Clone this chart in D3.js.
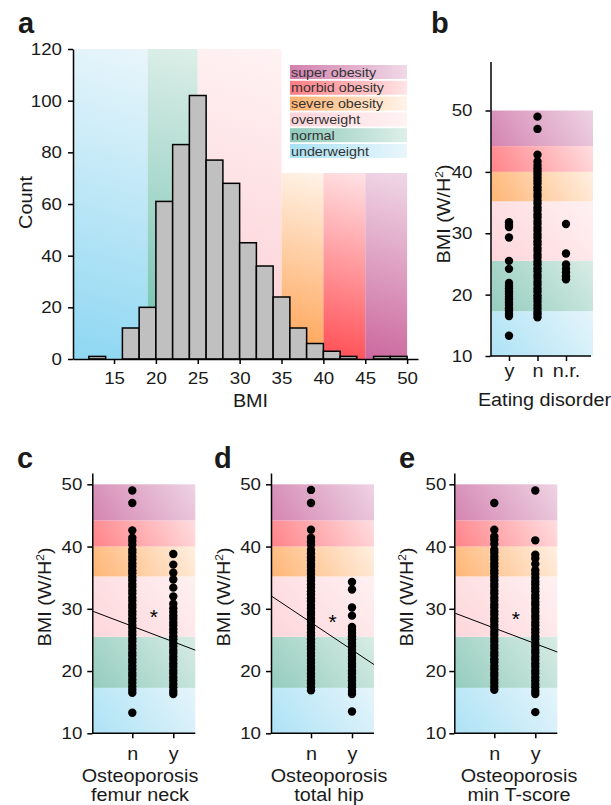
<!DOCTYPE html>
<meta charset="utf-8">
<style>
body { margin: 0; background: #fff; }
svg { font-family: "Liberation Sans", Arial, Helvetica, sans-serif; }
.axis path, .axis line { stroke: #000; stroke-width: 1.5; }
.axis text { font-size: 17px; fill: #1a1a1a; }
.cat .tick text { font-size: 18px; }
.title { font-size: 18px; fill: #1a1a1a; }
.letter { font-size: 29px; font-weight: bold; fill: #1a1a1a; }
.legend-text { font-size: 13px; fill: #333; }
.bar { fill: #c0c0c0; stroke: #000; stroke-width: 1.5; }
.dot { fill: #000; }
.fit { stroke: #000; stroke-width: 1; fill: none; }
</style>
<body>
<script src="https://d3js.org/d3.v7.min.js"></script>
<script>

// histogram (panel a)
var binStarts = [12, 14, 16, 18, 20, 22, 24, 26, 28, 30, 32, 34, 36, 38, 40, 42, 44, 46, 48];
var binCounts = [1, 0, 12, 20, 61, 83, 102, 77, 68, 45, 36, 24, 12, 6, 3, 1, 0, 1, 1];
var bmiTicks = [15, 20, 25, 30, 35, 40, 45, 50];
var countTicks = [0, 20, 40, 60, 80, 100, 120];

// BMI classes
var bandNames = ["underweight", "normal", "overweight", "severe obesity", "morbid obesity", "super obesity"];
var histBandEdges = [10.1, 19, 25, 35, 40, 45, 50];
var histBandTops = [120, 120, 120, 72, 72, 72];
var stripBandEdges = [10, 17.3, 25.5, 35.2, 40, 44.2, 50];
var stripTicks = [10, 20, 30, 40, 50];

// panel b: eating disorder
var eatCats = ["y", "n", "n.r."];
var eatY = [13.3, 16.5, 16.9, 17.4, 17.8, 18.3, 18.7, 19.2, 19.6, 20.1, 20.5, 21.0, 21.4, 21.9, 24.2, 25.5, 29.3, 31.0, 31.4, 31.8];
var eatN = [16.3, 16.8, 17.2, 17.8, 18.3, 18.9, 19.4, 19.9, 20.5, 21.0, 21.6, 22.1, 22.7, 23.2, 23.8, 24.3, 24.9, 25.4, 26.0, 26.5,
  27.1, 27.6, 28.2, 28.7, 29.3, 29.8, 30.4, 30.9, 31.5, 32.0, 32.6, 33.1, 33.7, 34.2, 34.8, 35.3, 35.9, 36.4, 37.0, 37.5,
  38.1, 38.6, 39.1, 39.6, 40.1, 40.6, 41.1, 41.7, 42.8, 47.0, 49.0];
var eatNR = [22.5, 23.0, 23.6, 24.2, 24.9, 26.7, 31.5];

// panels c-e: osteoporosis
var osteoCats = ["n", "y"];
var femurN = [13.3, 16.5, 17.0, 17.5, 18.1, 18.6, 19.2, 19.7, 20.3, 20.8, 21.4, 21.9, 22.5, 23.0, 23.6, 24.1, 24.7, 25.2, 25.8, 26.3,
  26.9, 27.4, 28.0, 28.5, 29.1, 29.6, 30.2, 30.7, 31.3, 31.8, 32.4, 32.9, 33.5, 34.0, 34.6, 35.1, 35.7, 36.2, 36.8, 37.3,
  37.9, 38.4, 39.0, 39.5, 40.3, 40.9, 41.4, 42.6, 47.0, 49.0];
var femurY = [16.3, 16.8, 17.4, 17.9, 18.5, 19.0, 19.6, 20.1, 20.7, 21.2, 21.8, 22.3, 22.9, 23.4, 24.0, 24.5, 25.1, 25.6, 26.2, 26.7,
  27.3, 27.8, 28.4, 28.9, 29.5, 30.1, 30.8, 32.0, 33.4, 34.7, 35.8, 37.1, 38.8];
var hipN = [16.9, 17.4, 18.0, 18.5, 19.1, 19.6, 20.2, 20.7, 21.3, 21.8, 22.4, 22.9, 23.5, 24.0, 24.6, 25.1, 25.7, 26.2, 26.8, 27.3,
  27.9, 28.4, 29.0, 29.5, 30.1, 30.6, 31.2, 31.7, 32.3, 32.8, 33.4, 33.9, 34.5, 35.0, 35.6, 36.1, 36.7, 37.2, 37.8, 38.3,
  38.9, 39.5, 40.3, 40.8, 41.4, 42.7, 47.0, 49.1];
var hipY = [13.5, 16.3, 16.8, 17.4, 17.9, 18.5, 19.0, 19.6, 20.1, 20.7, 21.2, 21.8, 22.3, 22.9, 23.4, 24.0, 24.5, 25.1, 25.6, 26.1,
  26.6, 27.1, 28.9, 30.2, 33.1, 34.3];
var tscoreN = [17.0, 17.5, 18.1, 18.6, 19.2, 19.7, 20.3, 20.8, 21.4, 21.9, 22.5, 23.0, 23.6, 24.1, 24.7, 25.2, 25.8, 26.3, 26.9, 27.4,
  28.0, 28.5, 29.1, 29.6, 30.2, 30.7, 31.3, 31.8, 32.4, 32.9, 33.5, 34.0, 34.6, 35.1, 35.7, 36.2, 36.8, 37.3, 37.9, 38.4,
  39.0, 39.5, 40.4, 41.1, 41.6, 42.7, 47.0];
var tscoreY = [13.4, 16.3, 16.8, 17.4, 17.9, 18.5, 19.0, 19.6, 20.1, 20.7, 21.2, 21.8, 22.3, 22.9, 23.4, 24.0, 24.5, 25.1, 25.6, 26.2,
  26.7, 27.3, 27.8, 28.4, 28.9, 29.5, 30.0, 30.6, 31.1, 31.7, 32.2, 32.8, 33.3, 33.9, 34.4, 35.0, 35.6, 36.2, 37.2, 38.1,
  38.7, 41.0, 49.0];
// fitted BMI at n / y, and height of the star
var femurFit = [27.2, 24.7], hipFit = [27.8, 23.4], tscoreFit = [26.9, 24.4];
var femurStar = 29.5, hipStar = 28.7, tscoreStar = 29.2;

// colours of the classes
var bandDark  = ["#8ed7f2", "#6dbfac", "#fccdd3", "#ffa04f", "#ff4d53", "#cc689e"];
var bandMid   = ["#a9e1f5", "#8fcaba", "#fdd4d9", "#ffb16d", "#ff7d83", "#d27fae"];
var bandLight = ["#eaf6fb", "#ddefe9", "#fff3f4", "#fff4ea", "#ffe4e6", "#f0d9e7"];

var svg = d3.select("body").append("svg").attr("width", 611).attr("height", 805);
var defs = svg.append("defs");
var gradId = 0;

function gradient(x1, y1, x2, y2, c0, c1, units) {
  var id = "g" + (gradId++);
  var g = defs.append("linearGradient").attr("id", id)
    .attr("gradientUnits", units || "userSpaceOnUse")
    .attr("x1", x1).attr("y1", y1).attr("x2", x2).attr("y2", y2);
  g.append("stop").attr("offset", 0).attr("stop-color", c0);
  g.append("stop").attr("offset", 1).attr("stop-color", c1);
  return "url(#" + id + ")";
}

function letter(txt, x, y) {
  svg.append("text").attr("class", "letter").attr("x", x).attr("y", y).text(txt);
}

function yTitle(x, y) {
  var t = svg.append("text").attr("class", "title stretch")
    .attr("text-anchor", "middle")
    .attr("transform", "translate(" + x + "," + y + ") rotate(-90)");
  t.append("tspan").text("BMI (W/H");
  t.append("tspan").attr("dy", -7).attr("font-size", "11px").text("2");
  t.append("tspan").attr("dy", 7).text(")");
}

// ---------- panel a ----------
var xA = d3.scaleLinear().domain([10.1, 51.3]).range([73, 418]);
var yA = d3.scaleLinear().domain([0, 120]).range([359, 49]);

bandNames.forEach(function(name, i) {
  var x0 = xA(histBandEdges[i]) + (i === 0 ? 1 : 0), x1 = xA(histBandEdges[i + 1]);
  var top = yA(histBandTops[i]);
  svg.append("rect")
    .attr("x", x0).attr("y", top)
    .attr("width", x1 - x0).attr("height", yA(0) - top)
    .attr("fill", gradient(x0, yA(0), x0 + (x1 - x0) * 1.2, top, bandDark[i], bandLight[i]));
});

svg.selectAll(".bar")
  .data(binStarts.map(function(s, i) { return {s: s, c: binCounts[i]}; }).filter(function(d) { return d.c > 0; }))
  .enter().append("rect")
  .attr("class", "bar")
  .attr("x", function(d) { return xA(d.s); })
  .attr("width", function(d) { return xA(d.s + 2) - xA(d.s); })
  .attr("y", function(d) { return yA(d.c); })
  .attr("height", function(d) { return yA(0) - yA(d.c); });

svg.append("g").attr("class", "axis").attr("transform", "translate(0," + yA(0) + ")")
  .call(d3.axisBottom(xA).tickValues(bmiTicks).tickSize(5).tickSizeOuter(0).tickPadding(8));
svg.append("g").attr("class", "axis").attr("transform", "translate(" + xA.range()[0] + ",0)")
  .call(d3.axisLeft(yA).tickValues(countTicks).tickSize(5).tickSizeOuter(0).tickPadding(6));

// legend, top row is the heaviest class
var legendOrder = bandNames.map(function(n, i) { return i; }).reverse();
var legendRow = d3.scaleLinear().domain([0, 5]).range([65, 144]);
legendOrder.forEach(function(i, r) {
  var y0 = legendRow(r);
  svg.append("rect")
    .attr("x", 290).attr("y", y0).attr("width", 117).attr("height", 14)
    .attr("fill", gradient(0, 0, 1, 0, bandMid[i], bandLight[i], "objectBoundingBox"));
  svg.append("text").attr("class", "legend-text stretch")
    .attr("x", 291).attr("y", y0 + 11.5).text(bandNames[i]);
});

svg.append("text").attr("class", "title stretch").attr("text-anchor", "middle")
  .attr("transform", "translate(31.5,202.5) rotate(-90)").text("Count");
svg.append("text").attr("class", "title stretch").attr("text-anchor", "middle")
  .attr("x", 250.5).attr("y", 407).text("BMI");
letter("a", 18, 33);

// ---------- strip panels ----------
function stripPanel(p) {
  var y = d3.scaleLinear().domain(p.domain).range(p.yRange);
  var x = d3.scalePoint().domain(p.cats).range(p.xRange);
  var left = p.axisX + 1;

  bandNames.forEach(function(name, i) {
    var yb = y(stripBandEdges[i]), yt = y(stripBandEdges[i + 1]);
    svg.append("rect")
      .attr("x", left).attr("y", yt).attr("width", p.right - left).attr("height", yb - yt)
      .attr("fill", gradient(left, yb + 15, p.right, yt - 15, bandMid[i], bandLight[i]));
  });

  p.groups.forEach(function(vals, k) {
    svg.append("g").selectAll("circle").data(vals).enter().append("circle")
      .attr("class", "dot")
      .attr("cx", x(p.cats[k]))
      .attr("cy", function(d) { return y(d); })
      .attr("r", 4.2);
  });

  if (p.fit) {
    var fitAt = d3.scaleLinear().domain([x("n"), x("y")]).range(p.fit);
    svg.append("path").attr("class", "fit")
      .attr("d", d3.line().x(function(d) { return d; }).y(function(d) { return y(fitAt(d)); })([left, p.right]));
    svg.append("text").attr("text-anchor", "middle").attr("font-size", "21px")
      .attr("x", (x("n") + x("y")) / 2 + 1).attr("y", y(p.star) + 12).text("*");
  }

  svg.append("g").attr("class", "axis").attr("transform", "translate(" + p.axisX + ",0)")
    .call(d3.axisLeft(y).tickValues(stripTicks).tickSize(5).tickSizeOuter(0).tickPadding(p.yPad));
  svg.append("line").attr("x1", p.axisX).attr("x2", p.axisEnd)
    .attr("y1", y(10)).attr("y2", y(10)).attr("stroke", "#000").attr("stroke-width", 1.5);
  svg.append("g").attr("class", "axis cat").attr("transform", "translate(0," + y(10) + ")")
    .call(d3.axisBottom(x).tickSize(5).tickPadding(p.xPad))
    .call(function(g) { g.select(".domain").remove(); });

  yTitle(p.axisX - 41, p.titleY);
  p.xTitle.forEach(function(line, j) {
    svg.append("text").attr("class", "title stretch").attr("text-anchor", "middle")
      .attr("x", p.xTitleX).attr("y", p.xTitleY + j * 19.5).text(line);
  });
  letter(p.letter, p.letterX, p.letterY);
}

stripPanel({
  cats: eatCats, groups: [eatY, eatN, eatNR],
  domain: [10, 58], yRange: [356, 61.4],
  axisX: 490.5, xRange: [509, 566], right: 593, axisEnd: 591,
  yPad: 13, xPad: 3, titleY: 214,
  xTitle: ["Eating disorder"], xTitleX: 544.5, xTitleY: 405.5,
  letter: "b", letterX: 431, letterY: 33
});

var osteoPanels = [
  {axisX: 92.3, groups: [femurN, femurY], fit: femurFit, star: femurStar, line2: "femur neck", titleX: 140, letter: "c", letterX: 17, yPad: 5},
  {axisX: 271, groups: [hipN, hipY], fit: hipFit, star: hipStar, line2: "total hip", titleX: 329, letter: "d", letterX: 214, yPad: 5},
  {axisX: 454.3, groups: [tscoreN, tscoreY], fit: tscoreFit, star: tscoreStar, line2: "min T-score", titleX: 519, letter: "e", letterX: 399, yPad: 3}
];
osteoPanels.forEach(function(o) {
  stripPanel({
    cats: osteoCats, groups: o.groups, fit: o.fit, star: o.star,
    domain: [10, 51.8], yRange: [733.3, 473.1],
    axisX: o.axisX, xRange: [o.axisX + 40, o.axisX + 81], right: o.axisX + 103, axisEnd: o.axisX + 103,
    yPad: o.yPad, xPad: 9, titleY: 597,
    xTitle: ["Osteoporosis", o.line2], xTitleX: o.titleX, xTitleY: 781.5,
    letter: o.letter, letterX: o.letterX, letterY: 468
  });
});

// the figure's type is a little wider than Arial: stretch it, and place it
// from its start so the anchor does not depend on how the stretch is laid out
svg.selectAll(".axis text").classed("stretch", true);
svg.selectAll("text.stretch").each(function() {
  var t = d3.select(this);
  var L = this.getComputedTextLength() * 1.1;
  var anchor = window.getComputedStyle(this).textAnchor;
  var x0 = +t.attr("x") || 0;
  if (anchor === "middle") x0 -= L / 2;
  else if (anchor === "end") x0 -= L;
  t.attr("x", x0).attr("text-anchor", "start")
    .attr("textLength", L).attr("lengthAdjust", "spacingAndGlyphs");
});

</script>
